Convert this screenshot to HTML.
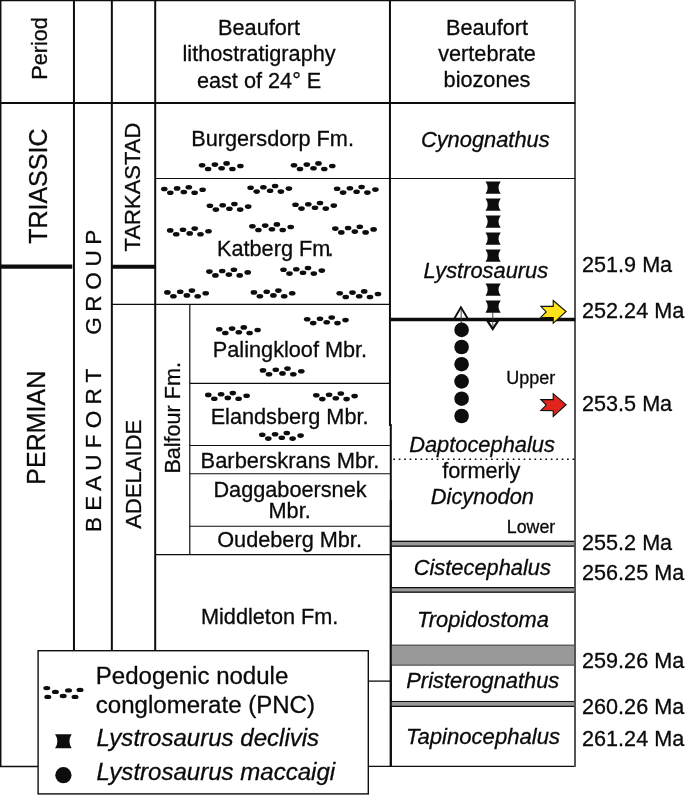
<!DOCTYPE html>
<html lang="en"><head><meta charset="utf-8"><title>Beaufort Group stratigraphy</title>
<style>
html,body{margin:0;padding:0;background:#fff;}
svg{display:block;}
text{font-family:"Liberation Sans",sans-serif;fill:#0a0a0a;stroke:#0a0a0a;stroke-width:0.3px;}
g.t{filter:grayscale(1);}
</style></head><body>
<svg width="685" height="795" viewBox="0 0 685 795">
<rect width="685" height="795" fill="#fff"/>
<line x1="0" y1="0.6" x2="575.2" y2="0.6" stroke="#0d0d0d" stroke-width="1.4" />
<line x1="0.7" y1="0" x2="0.7" y2="766.4" stroke="#0d0d0d" stroke-width="1.5" />
<line x1="0" y1="766.4" x2="38" y2="766.4" stroke="#0d0d0d" stroke-width="1.5" />
<line x1="73.95" y1="0" x2="73.95" y2="651" stroke="#0d0d0d" stroke-width="2" />
<line x1="111.85" y1="0" x2="111.85" y2="651" stroke="#0d0d0d" stroke-width="2" />
<line x1="155.2" y1="0" x2="155.2" y2="651" stroke="#0d0d0d" stroke-width="2" />
<line x1="389.95" y1="0" x2="389.95" y2="426" stroke="#0d0d0d" stroke-width="2" />
<line x1="390.8" y1="424" x2="390.8" y2="767.1" stroke="#0d0d0d" stroke-width="2" />
<line x1="575" y1="0" x2="575" y2="767.1" stroke="#555" stroke-width="2" />
<line x1="0" y1="103" x2="575.2" y2="103" stroke="#0d0d0d" stroke-width="2.2" />
<line x1="0" y1="266.7" x2="72.3" y2="266.7" stroke="#0d0d0d" stroke-width="4.2" />
<line x1="111.85" y1="266.75" x2="155.2" y2="266.75" stroke="#0d0d0d" stroke-width="4.2" />
<line x1="155.2" y1="178.5" x2="575.2" y2="178.5" stroke="#0d0d0d" stroke-width="1.1" />
<line x1="111.85" y1="304.4" x2="390" y2="304.4" stroke="#0d0d0d" stroke-width="1.1" />
<line x1="189.8" y1="304.4" x2="189.8" y2="554.7" stroke="#0d0d0d" stroke-width="1.2" />
<line x1="189.8" y1="383.4" x2="390" y2="383.4" stroke="#0d0d0d" stroke-width="1.1" />
<line x1="189.8" y1="445.5" x2="390" y2="445.5" stroke="#0d0d0d" stroke-width="1.1" />
<line x1="189.8" y1="473.7" x2="390" y2="473.7" stroke="#0d0d0d" stroke-width="1.1" />
<line x1="189.8" y1="526.3" x2="390" y2="526.3" stroke="#0d0d0d" stroke-width="1.1" />
<line x1="155.2" y1="554.7" x2="390" y2="554.7" stroke="#0d0d0d" stroke-width="1.2" />
<line x1="368.3" y1="681.1" x2="390" y2="681.1" stroke="#0d0d0d" stroke-width="1.3" />
<line x1="368.3" y1="766.4" x2="575.2" y2="766.4" stroke="#0d0d0d" stroke-width="1.4" />
<line x1="390" y1="319.6" x2="575.2" y2="319.6" stroke="#0d0d0d" stroke-width="3.5" />
<line x1="393.3" y1="459.2" x2="575.2" y2="459.2" stroke="#0d0d0d" stroke-width="1.6" stroke-dasharray="1.7 3.73"/>
<rect x="390" y="540.7" width="185.20000000000005" height="6.0" fill="#999"/>
<line x1="390" y1="541.3000000000001" x2="575.2" y2="541.3000000000001" stroke="#0d0d0d" stroke-width="1.2" />
<line x1="390" y1="546.1" x2="575.2" y2="546.1" stroke="#0d0d0d" stroke-width="1.2" />
<rect x="390" y="587.0" width="185.20000000000005" height="5.7999999999999545" fill="#999"/>
<line x1="390" y1="587.6" x2="575.2" y2="587.6" stroke="#0d0d0d" stroke-width="1.2" />
<line x1="390" y1="592.1999999999999" x2="575.2" y2="592.1999999999999" stroke="#0d0d0d" stroke-width="1.2" />
<rect x="390" y="644.7" width="185.20000000000005" height="20.9" fill="#999"/>
<line x1="390" y1="645.2" x2="575.2" y2="645.2" stroke="#4a4a4a" stroke-width="1.0" />
<line x1="390" y1="665.1" x2="575.2" y2="665.1" stroke="#4a4a4a" stroke-width="1.0" />
<rect x="390" y="700.9" width="185.20000000000005" height="6.100000000000023" fill="#999"/>
<line x1="390" y1="701.5" x2="575.2" y2="701.5" stroke="#0d0d0d" stroke-width="1.2" />
<line x1="390" y1="706.4" x2="575.2" y2="706.4" stroke="#0d0d0d" stroke-width="1.2" />
<line x1="390.8" y1="500" x2="390.8" y2="767.1" stroke="#0d0d0d" stroke-width="2" />
<line x1="575" y1="500" x2="575" y2="767.1" stroke="#555" stroke-width="2" />
<ellipse cx="202.1" cy="165.2" rx="3.3" ry="2.3" fill="#0d0d0d"/>
<ellipse cx="208.1" cy="169.0" rx="3.3" ry="2.3" fill="#0d0d0d"/>
<ellipse cx="214.9" cy="164.6" rx="3.3" ry="2.3" fill="#0d0d0d"/>
<ellipse cx="221.6" cy="168.2" rx="3.3" ry="2.3" fill="#0d0d0d"/>
<ellipse cx="226.6" cy="163.4" rx="3.3" ry="2.3" fill="#0d0d0d"/>
<ellipse cx="232.4" cy="169.0" rx="3.3" ry="2.3" fill="#0d0d0d"/>
<ellipse cx="240.4" cy="166.0" rx="3.3" ry="2.3" fill="#0d0d0d"/>
<ellipse cx="294.0" cy="165.2" rx="3.3" ry="2.3" fill="#0d0d0d"/>
<ellipse cx="300.0" cy="169.0" rx="3.3" ry="2.3" fill="#0d0d0d"/>
<ellipse cx="306.8" cy="164.6" rx="3.3" ry="2.3" fill="#0d0d0d"/>
<ellipse cx="313.5" cy="168.2" rx="3.3" ry="2.3" fill="#0d0d0d"/>
<ellipse cx="318.5" cy="163.4" rx="3.3" ry="2.3" fill="#0d0d0d"/>
<ellipse cx="324.3" cy="169.0" rx="3.3" ry="2.3" fill="#0d0d0d"/>
<ellipse cx="332.3" cy="166.0" rx="3.3" ry="2.3" fill="#0d0d0d"/>
<ellipse cx="164.3" cy="189.0" rx="3.3" ry="2.3" fill="#0d0d0d"/>
<ellipse cx="170.3" cy="192.8" rx="3.3" ry="2.3" fill="#0d0d0d"/>
<ellipse cx="177.1" cy="188.4" rx="3.3" ry="2.3" fill="#0d0d0d"/>
<ellipse cx="183.8" cy="192.0" rx="3.3" ry="2.3" fill="#0d0d0d"/>
<ellipse cx="188.8" cy="187.2" rx="3.3" ry="2.3" fill="#0d0d0d"/>
<ellipse cx="194.6" cy="192.8" rx="3.3" ry="2.3" fill="#0d0d0d"/>
<ellipse cx="202.6" cy="189.8" rx="3.3" ry="2.3" fill="#0d0d0d"/>
<ellipse cx="250.6" cy="187.8" rx="3.3" ry="2.3" fill="#0d0d0d"/>
<ellipse cx="256.6" cy="191.6" rx="3.3" ry="2.3" fill="#0d0d0d"/>
<ellipse cx="263.4" cy="187.2" rx="3.3" ry="2.3" fill="#0d0d0d"/>
<ellipse cx="270.1" cy="190.8" rx="3.3" ry="2.3" fill="#0d0d0d"/>
<ellipse cx="275.1" cy="186.0" rx="3.3" ry="2.3" fill="#0d0d0d"/>
<ellipse cx="280.9" cy="191.6" rx="3.3" ry="2.3" fill="#0d0d0d"/>
<ellipse cx="288.9" cy="188.6" rx="3.3" ry="2.3" fill="#0d0d0d"/>
<ellipse cx="337.1" cy="188.8" rx="3.3" ry="2.3" fill="#0d0d0d"/>
<ellipse cx="343.1" cy="192.6" rx="3.3" ry="2.3" fill="#0d0d0d"/>
<ellipse cx="349.9" cy="188.2" rx="3.3" ry="2.3" fill="#0d0d0d"/>
<ellipse cx="356.6" cy="191.8" rx="3.3" ry="2.3" fill="#0d0d0d"/>
<ellipse cx="361.6" cy="187.0" rx="3.3" ry="2.3" fill="#0d0d0d"/>
<ellipse cx="367.4" cy="192.6" rx="3.3" ry="2.3" fill="#0d0d0d"/>
<ellipse cx="375.4" cy="189.6" rx="3.3" ry="2.3" fill="#0d0d0d"/>
<ellipse cx="209.9" cy="205.8" rx="3.3" ry="2.3" fill="#0d0d0d"/>
<ellipse cx="215.9" cy="209.6" rx="3.3" ry="2.3" fill="#0d0d0d"/>
<ellipse cx="222.7" cy="205.2" rx="3.3" ry="2.3" fill="#0d0d0d"/>
<ellipse cx="229.4" cy="208.8" rx="3.3" ry="2.3" fill="#0d0d0d"/>
<ellipse cx="234.4" cy="204.0" rx="3.3" ry="2.3" fill="#0d0d0d"/>
<ellipse cx="240.2" cy="209.6" rx="3.3" ry="2.3" fill="#0d0d0d"/>
<ellipse cx="248.2" cy="206.6" rx="3.3" ry="2.3" fill="#0d0d0d"/>
<ellipse cx="295.5" cy="204.8" rx="3.3" ry="2.3" fill="#0d0d0d"/>
<ellipse cx="301.5" cy="208.6" rx="3.3" ry="2.3" fill="#0d0d0d"/>
<ellipse cx="308.3" cy="204.2" rx="3.3" ry="2.3" fill="#0d0d0d"/>
<ellipse cx="315.0" cy="207.8" rx="3.3" ry="2.3" fill="#0d0d0d"/>
<ellipse cx="320.0" cy="203.0" rx="3.3" ry="2.3" fill="#0d0d0d"/>
<ellipse cx="325.8" cy="208.6" rx="3.3" ry="2.3" fill="#0d0d0d"/>
<ellipse cx="333.8" cy="205.6" rx="3.3" ry="2.3" fill="#0d0d0d"/>
<ellipse cx="170.2" cy="230.4" rx="3.3" ry="2.3" fill="#0d0d0d"/>
<ellipse cx="176.2" cy="234.2" rx="3.3" ry="2.3" fill="#0d0d0d"/>
<ellipse cx="183.0" cy="229.8" rx="3.3" ry="2.3" fill="#0d0d0d"/>
<ellipse cx="189.7" cy="233.4" rx="3.3" ry="2.3" fill="#0d0d0d"/>
<ellipse cx="194.7" cy="228.6" rx="3.3" ry="2.3" fill="#0d0d0d"/>
<ellipse cx="200.5" cy="234.2" rx="3.3" ry="2.3" fill="#0d0d0d"/>
<ellipse cx="208.5" cy="231.2" rx="3.3" ry="2.3" fill="#0d0d0d"/>
<ellipse cx="252.4" cy="226.2" rx="3.3" ry="2.3" fill="#0d0d0d"/>
<ellipse cx="258.4" cy="230.0" rx="3.3" ry="2.3" fill="#0d0d0d"/>
<ellipse cx="265.2" cy="225.6" rx="3.3" ry="2.3" fill="#0d0d0d"/>
<ellipse cx="271.9" cy="229.2" rx="3.3" ry="2.3" fill="#0d0d0d"/>
<ellipse cx="276.9" cy="224.4" rx="3.3" ry="2.3" fill="#0d0d0d"/>
<ellipse cx="282.7" cy="230.0" rx="3.3" ry="2.3" fill="#0d0d0d"/>
<ellipse cx="290.7" cy="227.0" rx="3.3" ry="2.3" fill="#0d0d0d"/>
<ellipse cx="335.3" cy="228.6" rx="3.3" ry="2.3" fill="#0d0d0d"/>
<ellipse cx="341.3" cy="232.4" rx="3.3" ry="2.3" fill="#0d0d0d"/>
<ellipse cx="348.1" cy="228.0" rx="3.3" ry="2.3" fill="#0d0d0d"/>
<ellipse cx="354.8" cy="231.6" rx="3.3" ry="2.3" fill="#0d0d0d"/>
<ellipse cx="359.8" cy="226.8" rx="3.3" ry="2.3" fill="#0d0d0d"/>
<ellipse cx="365.6" cy="232.4" rx="3.3" ry="2.3" fill="#0d0d0d"/>
<ellipse cx="373.6" cy="229.4" rx="3.3" ry="2.3" fill="#0d0d0d"/>
<ellipse cx="209.4" cy="271.6" rx="3.3" ry="2.3" fill="#0d0d0d"/>
<ellipse cx="215.4" cy="275.4" rx="3.3" ry="2.3" fill="#0d0d0d"/>
<ellipse cx="222.2" cy="271.0" rx="3.3" ry="2.3" fill="#0d0d0d"/>
<ellipse cx="228.9" cy="274.6" rx="3.3" ry="2.3" fill="#0d0d0d"/>
<ellipse cx="233.9" cy="269.8" rx="3.3" ry="2.3" fill="#0d0d0d"/>
<ellipse cx="239.7" cy="275.4" rx="3.3" ry="2.3" fill="#0d0d0d"/>
<ellipse cx="247.7" cy="272.4" rx="3.3" ry="2.3" fill="#0d0d0d"/>
<ellipse cx="283.5" cy="269.8" rx="3.3" ry="2.3" fill="#0d0d0d"/>
<ellipse cx="289.5" cy="273.6" rx="3.3" ry="2.3" fill="#0d0d0d"/>
<ellipse cx="296.3" cy="269.2" rx="3.3" ry="2.3" fill="#0d0d0d"/>
<ellipse cx="303.0" cy="272.8" rx="3.3" ry="2.3" fill="#0d0d0d"/>
<ellipse cx="308.0" cy="268.0" rx="3.3" ry="2.3" fill="#0d0d0d"/>
<ellipse cx="313.8" cy="273.6" rx="3.3" ry="2.3" fill="#0d0d0d"/>
<ellipse cx="321.8" cy="270.6" rx="3.3" ry="2.3" fill="#0d0d0d"/>
<ellipse cx="167.4" cy="292.4" rx="3.3" ry="2.3" fill="#0d0d0d"/>
<ellipse cx="173.4" cy="296.2" rx="3.3" ry="2.3" fill="#0d0d0d"/>
<ellipse cx="180.2" cy="291.8" rx="3.3" ry="2.3" fill="#0d0d0d"/>
<ellipse cx="186.9" cy="295.4" rx="3.3" ry="2.3" fill="#0d0d0d"/>
<ellipse cx="191.9" cy="290.6" rx="3.3" ry="2.3" fill="#0d0d0d"/>
<ellipse cx="197.7" cy="296.2" rx="3.3" ry="2.3" fill="#0d0d0d"/>
<ellipse cx="205.7" cy="293.2" rx="3.3" ry="2.3" fill="#0d0d0d"/>
<ellipse cx="253.9" cy="292.4" rx="3.3" ry="2.3" fill="#0d0d0d"/>
<ellipse cx="259.9" cy="296.2" rx="3.3" ry="2.3" fill="#0d0d0d"/>
<ellipse cx="266.7" cy="291.8" rx="3.3" ry="2.3" fill="#0d0d0d"/>
<ellipse cx="273.4" cy="295.4" rx="3.3" ry="2.3" fill="#0d0d0d"/>
<ellipse cx="278.4" cy="290.6" rx="3.3" ry="2.3" fill="#0d0d0d"/>
<ellipse cx="284.2" cy="296.2" rx="3.3" ry="2.3" fill="#0d0d0d"/>
<ellipse cx="292.2" cy="293.2" rx="3.3" ry="2.3" fill="#0d0d0d"/>
<ellipse cx="339.7" cy="293.2" rx="3.3" ry="2.3" fill="#0d0d0d"/>
<ellipse cx="345.7" cy="297.0" rx="3.3" ry="2.3" fill="#0d0d0d"/>
<ellipse cx="352.5" cy="292.6" rx="3.3" ry="2.3" fill="#0d0d0d"/>
<ellipse cx="359.2" cy="296.2" rx="3.3" ry="2.3" fill="#0d0d0d"/>
<ellipse cx="364.2" cy="291.4" rx="3.3" ry="2.3" fill="#0d0d0d"/>
<ellipse cx="370.0" cy="297.0" rx="3.3" ry="2.3" fill="#0d0d0d"/>
<ellipse cx="378.0" cy="294.0" rx="3.3" ry="2.3" fill="#0d0d0d"/>
<ellipse cx="219.3" cy="329.2" rx="3.3" ry="2.3" fill="#0d0d0d"/>
<ellipse cx="225.3" cy="333.0" rx="3.3" ry="2.3" fill="#0d0d0d"/>
<ellipse cx="232.1" cy="328.6" rx="3.3" ry="2.3" fill="#0d0d0d"/>
<ellipse cx="238.8" cy="332.2" rx="3.3" ry="2.3" fill="#0d0d0d"/>
<ellipse cx="243.8" cy="327.4" rx="3.3" ry="2.3" fill="#0d0d0d"/>
<ellipse cx="249.6" cy="333.0" rx="3.3" ry="2.3" fill="#0d0d0d"/>
<ellipse cx="257.6" cy="330.0" rx="3.3" ry="2.3" fill="#0d0d0d"/>
<ellipse cx="307.2" cy="319.3" rx="3.3" ry="2.3" fill="#0d0d0d"/>
<ellipse cx="313.2" cy="323.1" rx="3.3" ry="2.3" fill="#0d0d0d"/>
<ellipse cx="320.0" cy="318.7" rx="3.3" ry="2.3" fill="#0d0d0d"/>
<ellipse cx="326.7" cy="322.3" rx="3.3" ry="2.3" fill="#0d0d0d"/>
<ellipse cx="331.7" cy="317.5" rx="3.3" ry="2.3" fill="#0d0d0d"/>
<ellipse cx="337.5" cy="323.1" rx="3.3" ry="2.3" fill="#0d0d0d"/>
<ellipse cx="345.5" cy="320.1" rx="3.3" ry="2.3" fill="#0d0d0d"/>
<ellipse cx="263.0" cy="370.4" rx="3.3" ry="2.3" fill="#0d0d0d"/>
<ellipse cx="269.0" cy="374.2" rx="3.3" ry="2.3" fill="#0d0d0d"/>
<ellipse cx="275.8" cy="369.8" rx="3.3" ry="2.3" fill="#0d0d0d"/>
<ellipse cx="282.5" cy="373.4" rx="3.3" ry="2.3" fill="#0d0d0d"/>
<ellipse cx="287.5" cy="368.6" rx="3.3" ry="2.3" fill="#0d0d0d"/>
<ellipse cx="293.3" cy="374.2" rx="3.3" ry="2.3" fill="#0d0d0d"/>
<ellipse cx="301.3" cy="371.2" rx="3.3" ry="2.3" fill="#0d0d0d"/>
<ellipse cx="208.3" cy="394.9" rx="3.3" ry="2.3" fill="#0d0d0d"/>
<ellipse cx="214.3" cy="398.7" rx="3.3" ry="2.3" fill="#0d0d0d"/>
<ellipse cx="221.1" cy="394.3" rx="3.3" ry="2.3" fill="#0d0d0d"/>
<ellipse cx="227.8" cy="397.9" rx="3.3" ry="2.3" fill="#0d0d0d"/>
<ellipse cx="232.8" cy="393.1" rx="3.3" ry="2.3" fill="#0d0d0d"/>
<ellipse cx="238.6" cy="398.7" rx="3.3" ry="2.3" fill="#0d0d0d"/>
<ellipse cx="246.6" cy="395.7" rx="3.3" ry="2.3" fill="#0d0d0d"/>
<ellipse cx="316.3" cy="395.3" rx="3.3" ry="2.3" fill="#0d0d0d"/>
<ellipse cx="322.3" cy="399.1" rx="3.3" ry="2.3" fill="#0d0d0d"/>
<ellipse cx="329.1" cy="394.7" rx="3.3" ry="2.3" fill="#0d0d0d"/>
<ellipse cx="335.8" cy="398.3" rx="3.3" ry="2.3" fill="#0d0d0d"/>
<ellipse cx="340.8" cy="393.5" rx="3.3" ry="2.3" fill="#0d0d0d"/>
<ellipse cx="346.6" cy="399.1" rx="3.3" ry="2.3" fill="#0d0d0d"/>
<ellipse cx="354.6" cy="396.1" rx="3.3" ry="2.3" fill="#0d0d0d"/>
<ellipse cx="262.3" cy="434.8" rx="3.3" ry="2.3" fill="#0d0d0d"/>
<ellipse cx="268.3" cy="438.6" rx="3.3" ry="2.3" fill="#0d0d0d"/>
<ellipse cx="275.1" cy="434.2" rx="3.3" ry="2.3" fill="#0d0d0d"/>
<ellipse cx="281.8" cy="437.8" rx="3.3" ry="2.3" fill="#0d0d0d"/>
<ellipse cx="286.8" cy="433.0" rx="3.3" ry="2.3" fill="#0d0d0d"/>
<ellipse cx="292.6" cy="438.6" rx="3.3" ry="2.3" fill="#0d0d0d"/>
<ellipse cx="300.6" cy="435.6" rx="3.3" ry="2.3" fill="#0d0d0d"/>
<path d="M485.5 181.5L500.7 181.5Q496.4 187.7 500.7 193.8L485.5 193.8Q489.8 187.7 485.5 181.5Z" fill="#0d0d0d"/>
<path d="M485.5 198.5L500.7 198.5Q496.4 204.7 500.7 210.8L485.5 210.8Q489.8 204.7 485.5 198.5Z" fill="#0d0d0d"/>
<path d="M485.5 215.5L500.7 215.5Q496.4 221.7 500.7 227.8L485.5 227.8Q489.8 221.7 485.5 215.5Z" fill="#0d0d0d"/>
<path d="M485.5 232.5L500.7 232.5Q496.4 238.7 500.7 244.8L485.5 244.8Q489.8 238.7 485.5 232.5Z" fill="#0d0d0d"/>
<path d="M485.5 249.5L500.7 249.5Q496.4 255.7 500.7 261.8L485.5 261.8Q489.8 255.7 485.5 249.5Z" fill="#0d0d0d"/>
<path d="M485.5 283.6L500.7 283.6Q496.4 289.7 500.7 295.8L485.5 295.8Q489.8 289.7 485.5 283.6Z" fill="#0d0d0d"/>
<path d="M485.5 300.6L500.7 300.6Q496.4 306.7 500.7 312.8L485.5 312.8Q489.8 306.7 485.5 300.6Z" fill="#0d0d0d"/>
<path d="M460.9 307.3L467.8 318.8H454.2Z" fill="#fff" stroke="#0d0d0d" stroke-width="1.9"/>
<line x1="461.2" y1="309" x2="461.2" y2="324" stroke="#333" stroke-width="0.9" />
<path d="M487.6 321H497.9L492.7 329.0Z" fill="#fff" stroke="#0d0d0d" stroke-width="2.2"/>
<line x1="492.8" y1="312" x2="492.8" y2="327" stroke="#333" stroke-width="0.9" />
<circle cx="461.6" cy="329.9" r="7.3" fill="#0d0d0d"/>
<circle cx="461.6" cy="347.0" r="7.3" fill="#0d0d0d"/>
<circle cx="461.6" cy="364.2" r="7.3" fill="#0d0d0d"/>
<circle cx="461.6" cy="381.4" r="7.3" fill="#0d0d0d"/>
<circle cx="461.6" cy="398.7" r="7.3" fill="#0d0d0d"/>
<circle cx="461.6" cy="416.0" r="7.3" fill="#0d0d0d"/>
<path d="M540.9 306.4L553.2 306.4L553.2 300.5L566.1 311.5L553.2 323.3L553.2 317.6L540.9 317.2L546.2 311.9Z" fill="#ffe11a" stroke="#0d0d0d" stroke-width="1.1" stroke-linejoin="miter"/>
<path d="M540.9 399.6L553.2 399.6L553.2 393.7L566.1 404.7L553.2 416.5L553.2 410.8L540.9 410.4L546.2 405.1Z" fill="#e0261c" stroke="#0d0d0d" stroke-width="1.1" stroke-linejoin="miter"/>
<rect x="38.1" y="650.7" width="330.2" height="143.2" fill="#fff" stroke="#0d0d0d" stroke-width="1.4"/>
<ellipse cx="46.8" cy="688.1" rx="3.5" ry="2.2" fill="#0d0d0d"/>
<ellipse cx="47.8" cy="696.9" rx="3.5" ry="2.2" fill="#0d0d0d"/>
<ellipse cx="55.4" cy="691.9" rx="3.5" ry="2.2" fill="#0d0d0d"/>
<ellipse cx="63.2" cy="696.0" rx="3.5" ry="2.2" fill="#0d0d0d"/>
<ellipse cx="68.5" cy="690.4" rx="3.5" ry="2.2" fill="#0d0d0d"/>
<ellipse cx="75.0" cy="696.9" rx="3.5" ry="2.2" fill="#0d0d0d"/>
<ellipse cx="80.0" cy="689.9" rx="3.5" ry="2.2" fill="#0d0d0d"/>
<path d="M55.1 734.2L71.7 734.2Q67.1 741.2 71.7 748.2L55.1 748.2Q59.7 741.2 55.1 734.2Z" fill="#0d0d0d"/>
<circle cx="63.4" cy="775.2" r="8.1" fill="#0d0d0d"/>
<g class="t">
<text x="46.8" y="48.5" text-anchor="middle" style="font-size:21.6px;" transform="rotate(-90 46.8 48.5)">Period</text>
<text x="46.8" y="186.2" text-anchor="middle" style="font-size:25px;" transform="rotate(-90 46.8 186.2)">TRIASSIC</text>
<text x="44.7" y="427.7" text-anchor="middle" style="font-size:25px;" transform="rotate(-90 44.7 427.7)">PERMIAN</text>
<text x="140.3" y="187" text-anchor="middle" style="font-size:22px;" transform="rotate(-90 140.3 187)">TARKASTAD</text>
<text x="140.8" y="474.2" text-anchor="middle" style="font-size:22px;" transform="rotate(-90 140.8 474.2)">ADELAIDE</text>
<text x="100.9" y="532" text-anchor="start" style="font-size:22.5px;" transform="rotate(-90 100.9 532)">B E A U F O R T</text>
<text x="100.9" y="334.8" text-anchor="start" style="font-size:22.5px;letter-spacing:-0.3px;" transform="rotate(-90 100.9 334.8)">G R O U P</text>
<text x="179.7" y="417.8" text-anchor="middle" style="font-size:21.6px;" transform="rotate(-90 179.7 417.8)">Balfour Fm.</text>
<text x="259.1" y="35.4" text-anchor="middle" style="font-size:21.7px;">Beaufort</text>
<text x="259.1" y="61.3" text-anchor="middle" style="font-size:21.7px;">lithostratigraphy</text>
<text x="259.1" y="88" text-anchor="middle" style="font-size:21.7px;">east of 24° E</text>
<text x="487" y="34.7" text-anchor="middle" style="font-size:21.7px;">Beaufort</text>
<text x="487" y="61" text-anchor="middle" style="font-size:21.7px;">vertebrate</text>
<text x="487" y="86.9" text-anchor="middle" style="font-size:21.7px;">biozones</text>
<text x="272.6" y="145.6" text-anchor="middle" style="font-size:21.7px;">Burgersdorp Fm.</text>
<text x="217" y="256.2" text-anchor="start" style="font-size:21.7px;">Katberg Fm<tspan dx="-2.8">.</tspan></text>
<text x="290" y="357" text-anchor="middle" style="font-size:21.7px;">Palingkloof Mbr.</text>
<text x="289.6" y="423.8" text-anchor="middle" style="font-size:21.7px;">Elandsberg Mbr.</text>
<text x="290" y="467.6" text-anchor="middle" style="font-size:21.9px;">Barberskrans Mbr.</text>
<text x="290" y="496.8" text-anchor="middle" style="font-size:21.7px;">Daggaboersnek</text>
<text x="289.6" y="517.6" text-anchor="middle" style="font-size:21.7px;">Mbr.</text>
<text x="289.6" y="546.8" text-anchor="middle" style="font-size:21.7px;">Oudeberg Mbr.</text>
<text x="269.7" y="624.2" text-anchor="middle" style="font-size:21.7px;">Middleton Fm.</text>
<text x="485.3" y="147.1" text-anchor="middle" style="font-size:21.85px;font-style:italic;">Cynognathus</text>
<text x="485.8" y="278.1" text-anchor="middle" style="font-size:21.85px;font-style:italic;">Lystrosaurus</text>
<text x="482" y="452.2" text-anchor="middle" style="font-size:21.85px;font-style:italic;">Daptocephalus</text>
<text x="481.3" y="478.2" text-anchor="middle" style="font-size:21.7px;">formerly</text>
<text x="482.4" y="504.3" text-anchor="middle" style="font-size:21.85px;font-style:italic;">Dicynodon</text>
<text x="482.3" y="575.4" text-anchor="middle" style="font-size:21.85px;font-style:italic;">Cistecephalus</text>
<text x="483" y="626.6" text-anchor="middle" style="font-size:21.85px;font-style:italic;">Tropidostoma</text>
<text x="482.8" y="688.2" text-anchor="middle" style="font-size:21.85px;font-style:italic;">Pristerognathus</text>
<text x="483" y="744" text-anchor="middle" style="font-size:22.1px;font-style:italic;">Tapinocephalus</text>
<text x="530.8" y="383.5" text-anchor="middle" style="font-size:18.0px;">Upper</text>
<text x="531" y="532.5" text-anchor="middle" style="font-size:17.8px;">Lower</text>
<text x="582.1" y="272.2" text-anchor="start" style="font-size:21.6px;">251.9 Ma</text>
<text x="582.1" y="318.1" text-anchor="start" style="font-size:21.6px;">252.24 Ma</text>
<text x="582.1" y="411.1" text-anchor="start" style="font-size:21.6px;">253.5 Ma</text>
<text x="582.1" y="549.6" text-anchor="start" style="font-size:21.6px;">255.2 Ma</text>
<text x="582.1" y="580" text-anchor="start" style="font-size:21.6px;">256.25 Ma</text>
<text x="582.1" y="667.6" text-anchor="start" style="font-size:21.6px;">259.26 Ma</text>
<text x="582.1" y="714" text-anchor="start" style="font-size:21.6px;">260.26 Ma</text>
<text x="582.1" y="745.5" text-anchor="start" style="font-size:21.6px;">261.24 Ma</text>
<text x="95.8" y="683.8" text-anchor="start" style="font-size:24.05px;">Pedogenic nodule</text>
<text x="95.8" y="712.6" text-anchor="start" style="font-size:24.05px;">conglomerate (PNC)</text>
<text x="96.4" y="745.8" text-anchor="start" style="font-size:24.05px;font-style:italic;">Lystrosaurus declivis</text>
<text x="96.4" y="780.1" text-anchor="start" style="font-size:24.05px;font-style:italic;">Lystrosaurus maccaigi</text>
</g>
</svg>
</body></html>
